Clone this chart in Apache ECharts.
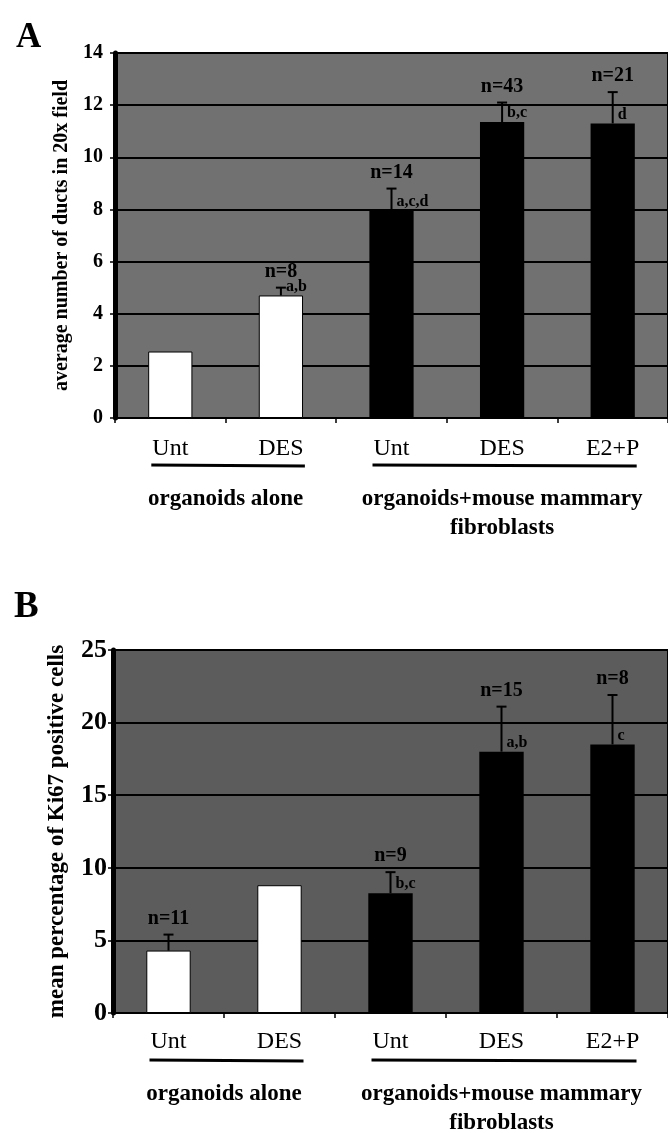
<!DOCTYPE html>
<html>
<head>
<meta charset="utf-8">
<script src="https://cdn.jsdelivr.net/npm/echarts@6/dist/echarts.min.js"></script>
<style>
html,body{margin:0;padding:0;background:#fff;}
#chart{width:668px;height:1133px;}
</style>
</head>
<body>
<div id="chart"></div>
<script>
// ---- data ----
const categories = ['Unt', 'DES', 'Unt', 'DES', 'E2+P'];
const groupNames = ['organoids alone', 'organoids+mouse mammary\nfibroblasts'];
const groupRanges = [[0, 1], [2, 4]];
const barColors = ['#ffffff', '#ffffff', '#000000', '#000000', '#000000'];

const ductsMean  = [2.55, 4.7, 7.95, 11.35, 11.3];
const ductsUpper = [null, 5.0, 8.8, 12.1, 12.5];
const ductsN     = ['', 'n=8', 'n=14', 'n=43', 'n=21'];
const ductsSig   = ['', 'a,b', 'a,c,d', 'b,c', 'd'];
const ductsTicks = { min: 0, max: 14, interval: 2 };

const ki67Mean  = [4.3, 8.8, 8.25, 18.0, 18.5];
const ki67Upper = [5.4, null, 9.7, 21.1, 21.9];
const ki67N     = ['n=11', '', 'n=9', 'n=15', 'n=8'];
const ki67Sig   = ['', '', 'b,c', 'a,b', 'c'];
const ki67Ticks = { min: 0, max: 25, interval: 5 };

const yNames = ['average number of ducts in 20x field', 'mean percentage of Ki67 positive cells'];

// ---- chart ----
const SERIF = '"Liberation Serif", "DejaVu Serif", serif';
const chart = echarts.init(document.getElementById('chart'), null, { renderer: 'canvas' });

function barData(means) {
  return means.map((v, i) => ({
    value: v,
    itemStyle: { color: barColors[i], borderColor: '#000', borderWidth: barColors[i] === '#000000' ? 0 : 1 }
  }));
}

function errRender(upper, nLab, sig, nFont, sigFont) {
  return function (params, api) {
    const i = params.dataIndex;
    const base = api.coord([i, api.value(1)]);
    const children = [];
    let topY = base[1];
    if (upper[i] != null) {
      const c = api.coord([i, upper[i]]);
      children.push({ type: 'line', shape: { x1: base[0], y1: base[1], x2: c[0], y2: c[1] }, style: { stroke: '#000', lineWidth: 2 } });
      children.push({ type: 'line', shape: { x1: c[0] - 5, y1: c[1], x2: c[0] + 5, y2: c[1] }, style: { stroke: '#000', lineWidth: 2 } });
      topY = c[1];
    }
    if (nLab[i]) {
      children.push({ type: 'text', style: { text: nLab[i], x: base[0], y: topY - 6, font: nFont, fill: '#000', align: 'center', verticalAlign: 'bottom', textAlign: 'center', textVerticalAlign: 'bottom' } });
    }
    if (sig[i]) {
      children.push({ type: 'text', style: { text: sig[i], x: base[0] + 5, y: base[1] - 1, font: sigFont, fill: '#000', align: 'left', verticalAlign: 'bottom', textAlign: 'left', textVerticalAlign: 'bottom' } });
    }
    return { type: 'group', children: children };
  };
}

function xAxisCfg(gi, margin) {
  return {
    type: 'category', gridIndex: gi, data: categories,
    axisLine: { lineStyle: { color: '#000', width: 2 } },
    axisTick: { show: true, length: 5, lineStyle: { color: '#000', width: 1.5 } },
    axisLabel: { color: '#000', fontFamily: SERIF, fontSize: 24, margin: margin }
  };
}
function yAxisCfg(gi, ticks, name, nameSize, nameGap, labSize, labMargin) {
  return {
    type: 'value', gridIndex: gi, min: ticks.min, max: ticks.max, interval: ticks.interval,
    name: name, nameLocation: 'middle', nameGap: nameGap,
    nameTextStyle: { color: '#000', fontFamily: SERIF, fontWeight: 'bold', fontSize: nameSize },
    axisLine: { show: true, lineStyle: { color: '#000', width: 5 } },
    axisTick: { show: true, length: 5, lineStyle: { color: '#000', width: 1.5 } },
    axisLabel: { color: '#000', fontFamily: SERIF, fontWeight: 'bold', fontSize: labSize, margin: labMargin },
    splitLine: { show: true, lineStyle: { color: '#000', width: 2 } }
  };
}

const option = {
  backgroundColor: '#ffffff',
  animation: false,
  title: [
    { text: 'A', left: 11, top: 15, textStyle: { fontFamily: SERIF, fontWeight: 'bold', fontSize: 35, color: '#000' } },
    { text: 'B', left: 9, top: 584, textStyle: { fontFamily: SERIF, fontWeight: 'bold', fontSize: 37, color: '#000' } }
  ],
  grid: [
    { left: 115, top: 53, width: 555, height: 365, show: true, backgroundColor: '#717171', borderColor: '#000', borderWidth: 2 },
    { left: 113, top: 650, width: 560, height: 363, show: true, backgroundColor: '#5c5c5c', borderColor: '#000', borderWidth: 2 }
  ],
  xAxis: [xAxisCfg(0, 19), xAxisCfg(1, 17)],
  yAxis: [
    yAxisCfg(0, ductsTicks, yNames[0], 20, 42, 20, 12),
    yAxisCfg(1, ki67Ticks, yNames[1], 23, 44, 26, 6)
  ],
  series: [
    { type: 'bar', xAxisIndex: 0, yAxisIndex: 0, barWidth: '40%', data: barData(ductsMean) },
    { type: 'custom', xAxisIndex: 0, yAxisIndex: 0, z: 5,
      renderItem: errRender(ductsUpper, ductsN, ductsSig, 'bold 20px ' + SERIF, 'bold 16px ' + SERIF),
      data: ductsMean.map((v, i) => [i, v]) },
    { type: 'bar', xAxisIndex: 1, yAxisIndex: 1, barWidth: '40%', data: barData(ki67Mean) },
    { type: 'custom', xAxisIndex: 1, yAxisIndex: 1, z: 5,
      renderItem: errRender(ki67Upper, ki67N, ki67Sig, 'bold 20px ' + SERIF, 'bold 16px ' + SERIF),
      data: ki67Mean.map((v, i) => [i, v]) }
  ]
};
chart.setOption(option);

// group underlines and group names, positioned from the axes
function groupGraphics(gi) {
  const out = [];
  groupRanges.forEach((r, k) => {
    const a = chart.convertToPixel({ gridIndex: gi }, [r[0], 0]);
    const b = chart.convertToPixel({ gridIndex: gi }, [r[1], 0]);
    const y0 = a[1];
    out.push({ type: 'line', shape: { x1: a[0] - 19, y1: y0 + 47, x2: b[0] + 24, y2: y0 + 48 }, style: { stroke: '#000', lineWidth: 3 } });
    out.push({ type: 'text', x: (a[0] + b[0]) / 2, y: y0 + 67,
      style: { text: groupNames[k], font: 'bold 23px ' + SERIF, fill: '#000', align: 'center', verticalAlign: 'top', textAlign: 'center', textVerticalAlign: 'top', lineHeight: 29 } });
  });
  return out;
}
chart.setOption({ graphic: groupGraphics(0).concat(groupGraphics(1)) });
</script>
</body>
</html>
